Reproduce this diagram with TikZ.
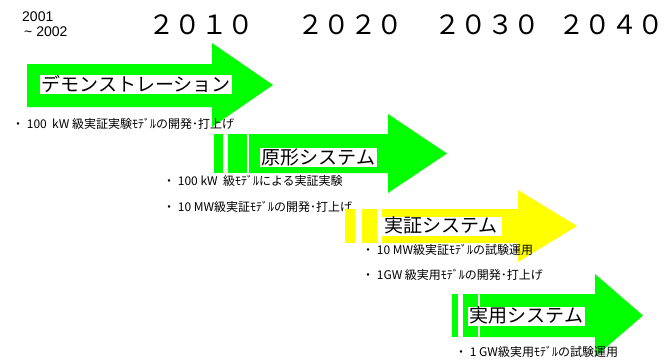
\documentclass[tikz,border=0pt]{standalone}
\usepackage{fontspec}
\setmainfont{Noto Sans CJK JP}
\newfontfamily\arialf{Liberation Sans}
\definecolor{agreen}{RGB}{0,255,0}
\definecolor{ayellow}{RGB}{255,255,0}
\begin{document}
\begin{tikzpicture}[x=1pt,y=-1pt,
  yearsmall/.style={font=\arialf\fontsize{14}{14}\selectfont,inner sep=0pt,anchor=west},
  yearbig/.style={font=\fontsize{26.5}{26.5}\selectfont,inner sep=0pt},
  note/.style={font=\fontsize{12}{12}\selectfont,inner sep=0pt,anchor=west},
  lbl/.style={font=\fontsize{19}{19}\selectfont,fill=white,inner xsep=1.5pt,inner ysep=0pt,anchor=west,text height=16pt,text depth=3pt}]
\useasboundingbox (0,0) rectangle (664,362);
\fill[white] (0,0) rectangle (664,362);
% years
\node[yearsmall] (y1) at (22,17) {2001};
\node[yearsmall] (y2) at (24,32) {\textasciitilde\ 2002};
\node[yearbig] (y2010) at (201,25) {２０１０};
\node[yearbig] (y2020) at (350,25) {２０２０};
\node[yearbig] (y2030) at (487,25) {２０３０};
\node[yearbig] (y2040) at (611,25) {２０４０};
% arrow 1
\fill[agreen] (27,64) -- (212,64) -- (212,43) -- (273,85) -- (212,127) -- (212,107) -- (27,107) -- cycle;
\node[lbl,minimum width=189pt] (l1) at (40,84.5) {デモンストレーション};
\node[note] (t1) at (12,124) {・ 100\ \ kW 級実証実験ﾓﾃﾞﾙの開発･打上げ};
% arrow 2
\fill[agreen] (214,134) rectangle (223,173);
\fill[agreen] (228,134) rectangle (247,173);
\fill[agreen] (249,134) -- (388,134) -- (388,114) -- (447,153.5) -- (388,193) -- (388,173) -- (249,173) -- cycle;
\node[lbl,minimum width=115pt] (l2) at (260,157.5) {原形システム};
\node[note] (t2) at (163,181) {・ 100 kW\ \ 級ﾓﾃﾞﾙによる実証実験};
\node[note] (t3) at (163,207) {・ 10 MW級実証ﾓﾃﾞﾙの開発･打上げ};
% arrow 3
\fill[ayellow] (345,209) rectangle (355,243);
\fill[ayellow] (362,209) rectangle (377,243);
\fill[ayellow] (382,209) -- (518,209) -- (518,190) -- (577,226) -- (518,262) -- (518,243) -- (382,243) -- cycle;
\node[lbl,minimum width=122pt] (l3) at (380,226) {実証システム};
\node[note] (t4) at (362,250) {・ 10 MW級実証ﾓﾃﾞﾙの試験運用};
\node[note] (t5) at (362,275) {・ 1GW 級実用ﾓﾃﾞﾙの開発･打上げ};
% arrow 4
\fill[agreen] (452,294) rectangle (458,337);
\fill[agreen] (463,294) rectangle (478,337);
\fill[agreen] (480,294) -- (595,294) -- (595,274) -- (643,315.5) -- (595,357) -- (595,337) -- (480,337) -- cycle;
\node[lbl,minimum width=117pt] (l4) at (468,316) {実用システム};
\node[note] (t6) at (455,352) {・ 1 GW級実用ﾓﾃﾞﾙの試験運用};
\end{tikzpicture}
\end{document}
